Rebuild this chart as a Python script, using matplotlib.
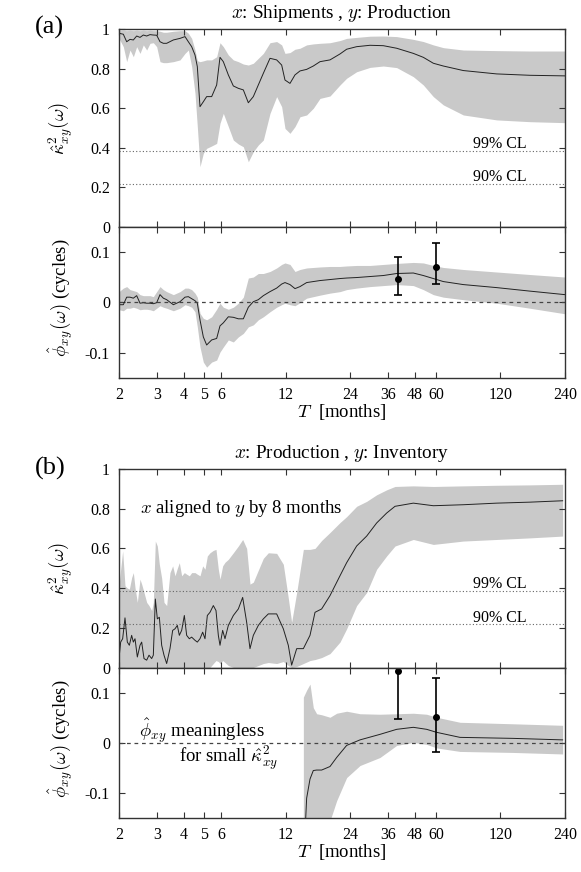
import matplotlib
matplotlib.use('Agg')
import matplotlib.pyplot as plt
from matplotlib.ticker import FixedLocator, FixedFormatter, NullFormatter, NullLocator

plt.rcParams['font.family'] = ['Liberation Serif', 'DejaVu Serif']
plt.rcParams['mathtext.fontset'] = 'cm'
plt.rcParams['font.size'] = 11.5
plt.rcParams['axes.unicode_minus'] = False

# ---------------- panel (a): x = Shipments, y = Production ----------------
period_a = [2.000, 2.095, 2.172, 2.251, 2.333, 2.418, 2.506, 2.597, 2.692, 2.790,
            2.891, 2.997, 3.106, 3.219, 3.336, 3.584, 3.850, 4.062, 4.210, 4.363,
            4.522, 4.636, 4.771, 4.945, 5.125, 5.408, 5.706, 5.914, 6.129, 6.467,
            6.824, 7.200, 7.597, 8.016, 8.457, 8.923, 9.417, 10.115, 10.864, 11.464,
            11.880, 12.536, 13.227, 13.956, 14.99, 16.10, 17.30, 19.26, 21.44, 23.03,
            25.64, 29.59, 34.14, 39.40, 47.11, 52.45, 58.40, 65.01, 80.58, 115.2,
            164.8, 240.0]
coh_a = [0.980, 0.975, 0.937, 0.949, 0.946, 0.966, 0.959, 0.971, 0.966, 0.973,
         0.971, 0.970, 0.937, 0.929, 0.929, 0.946, 0.954, 0.963, 0.937, 0.912,
         0.870, 0.811, 0.608, 0.633, 0.659, 0.659, 0.718, 0.858, 0.836, 0.769,
         0.713, 0.701, 0.693, 0.628, 0.659, 0.718, 0.777, 0.853, 0.845, 0.819,
         0.743, 0.726, 0.769, 0.789, 0.797, 0.814, 0.836, 0.845, 0.875, 0.899,
         0.912, 0.919, 0.917, 0.904, 0.878, 0.858, 0.828, 0.814, 0.791, 0.774,
         0.767, 0.764]
coh_a_hi = [0.993, 0.995, 0.993, 0.995, 0.993, 0.995, 0.993, 0.995, 0.993, 0.995,
            0.993, 0.993, 0.990, 0.985, 0.985, 0.990, 0.993, 0.993, 0.980, 0.954,
            0.895, 0.841, 0.836, 0.840, 0.845, 0.845, 0.861, 0.932, 0.912, 0.870,
            0.845, 0.836, 0.824, 0.819, 0.828, 0.853, 0.878, 0.932, 0.938, 0.921,
            0.878, 0.882, 0.899, 0.904, 0.921, 0.926, 0.929, 0.932, 0.943, 0.954,
            0.959, 0.965, 0.966, 0.963, 0.949, 0.938, 0.921, 0.907, 0.895, 0.892,
            0.890, 0.890]
coh_a_lo = [0.954, 0.912, 0.836, 0.895, 0.861, 0.912, 0.878, 0.921, 0.895, 0.929,
            0.932, 0.912, 0.836, 0.831, 0.831, 0.836, 0.845, 0.878, 0.895, 0.811,
            0.676, 0.507, 0.304, 0.372, 0.397, 0.409, 0.422, 0.524, 0.574, 0.507,
            0.439, 0.419, 0.405, 0.329, 0.380, 0.414, 0.439, 0.574, 0.659, 0.608,
            0.498, 0.473, 0.507, 0.557, 0.566, 0.600, 0.650, 0.662, 0.718, 0.752,
            0.785, 0.807, 0.814, 0.806, 0.760, 0.718, 0.659, 0.617, 0.566, 0.541,
            0.532, 0.527]
phase_a = [-0.005, -0.005, 0.010, 0.010, 0.008, 0.013, -0.002, -0.001, -0.002, -0.002,
           -0.003, -0.001, 0.015, 0.008, 0.005, -0.005, 0.001, 0.010, 0.011, 0.007,
           0.003, -0.002, -0.035, -0.069, -0.085, -0.075, -0.072, -0.047, -0.041, -0.029,
           -0.030, -0.033, -0.033, -0.010, 0.001, 0.005, 0.013, 0.021, 0.028, 0.036,
           0.039, 0.035, 0.027, 0.031, 0.039, 0.041, 0.043, 0.045, 0.047, 0.048,
           0.049, 0.051, 0.053, 0.057, 0.058, 0.053, 0.047, 0.041, 0.035, 0.029,
           0.022, 0.015]
phase_a_hi = [0.021, 0.028, 0.031, 0.025, 0.023, 0.021, 0.015, 0.013, 0.013, 0.013,
              0.011, 0.021, 0.031, 0.025, 0.021, 0.015, 0.021, 0.028, 0.028, 0.025,
              0.018, 0.010, -0.022, -0.032, -0.035, -0.029, -0.014, -0.002, -0.010, -0.014,
              -0.010, -0.002, 0.010, 0.048, 0.050, 0.057, 0.057, 0.061, 0.068, 0.075,
              0.078, 0.075, 0.061, 0.065, 0.068, 0.069, 0.070, 0.071, 0.071, 0.072,
              0.073, 0.073, 0.075, 0.077, 0.079, 0.078, 0.073, 0.069, 0.065, 0.060,
              0.055, 0.050]
phase_a_lo = [-0.015, -0.017, -0.012, -0.012, -0.010, -0.012, -0.015, -0.014, -0.014, -0.015,
              -0.017, -0.012, -0.007, -0.010, -0.012, -0.017, -0.012, -0.005, -0.007, -0.010,
              -0.019, -0.049, -0.089, -0.119, -0.129, -0.119, -0.115, -0.099, -0.089, -0.075,
              -0.079, -0.069, -0.062, -0.049, -0.045, -0.035, -0.029, -0.019, -0.010, -0.005,
              -0.002, -0.005, -0.007, -0.001, 0.008, 0.011, 0.014, 0.018, 0.021, 0.025,
              0.028, 0.031, 0.033, 0.035, 0.033, 0.025, 0.015, 0.010, 0.005, -0.002,
              -0.012, -0.023]

# ---------------- panel (b): x = Production, y = Inventory ----------------
period_b = [2.000, 2.036, 2.080, 2.133, 2.187, 2.235, 2.291, 2.333, 2.375, 2.435,
            2.506, 2.551, 2.616, 2.692, 2.760, 2.840, 2.891, 2.954, 3.018, 3.084,
            3.162, 3.242, 3.336, 3.457, 3.558, 3.648, 3.741, 3.822, 3.919, 4.033,
            4.135, 4.255, 4.363, 4.522, 4.636, 4.771, 4.910, 5.034, 5.162, 5.312,
            5.505, 5.665, 5.809, 5.914, 6.085, 6.240, 6.467, 6.824, 7.200, 7.543,
            7.873, 8.160, 8.457, 8.923, 9.417, 9.935, 10.864, 11.67, 12.31, 12.76,
            13.47, 14.47, 15.54, 16.40, 17.61, 19.26, 21.44, 23.03, 25.64, 28.55,
            31.78, 35.38, 38.70, 47.11, 58.40, 80.58, 115.2, 164.8, 234.0]
coh_b = [0.045, 0.128, 0.145, 0.250, 0.128, 0.112, 0.162, 0.128, 0.145, 0.053,
         0.112, 0.128, 0.045, 0.037, 0.062, 0.045, 0.062, 0.345, 0.245, 0.253,
         0.112, 0.062, 0.020, 0.095, 0.187, 0.195, 0.212, 0.162, 0.187, 0.262,
         0.162, 0.145, 0.153, 0.137, 0.128, 0.145, 0.178, 0.145, 0.262, 0.278,
         0.312, 0.287, 0.162, 0.112, 0.187, 0.145, 0.212, 0.262, 0.295, 0.353,
         0.228, 0.095, 0.162, 0.212, 0.245, 0.270, 0.270, 0.195, 0.112, 0.012,
         0.095, 0.095, 0.162, 0.278, 0.295, 0.362, 0.462, 0.528, 0.612, 0.662,
         0.728, 0.778, 0.812, 0.828, 0.815, 0.820, 0.828, 0.833, 0.840]
coh_b_hi = [0.412, 0.495, 0.587, 0.412, 0.400, 0.395, 0.453, 0.478, 0.403, 0.328,
            0.445, 0.420, 0.378, 0.328, 0.312, 0.287, 0.328, 0.637, 0.612, 0.520,
            0.450, 0.328, 0.312, 0.478, 0.512, 0.462, 0.500, 0.528, 0.462, 0.478,
            0.470, 0.462, 0.478, 0.478, 0.470, 0.462, 0.512, 0.495, 0.562, 0.578,
            0.590, 0.595, 0.495, 0.445, 0.512, 0.530, 0.545, 0.578, 0.612, 0.645,
            0.600, 0.420, 0.430, 0.490, 0.550, 0.578, 0.575, 0.520, 0.350, 0.228,
            0.378, 0.595, 0.595, 0.600, 0.640, 0.680, 0.730, 0.760, 0.812, 0.837,
            0.870, 0.895, 0.912, 0.915, 0.912, 0.915, 0.918, 0.920, 0.923]
coh_b_lo = [0.0] * 40 + [
            0.020, 0.035, 0.030, 0.020, 0.035, 0.025, 0.010, 0.0, 0.0, 0.0,
            0.0, 0.0, 0.0, 0.010, 0.020, 0.025, 0.020, 0.030, 0.010, 0.0,
            0.005, 0.020, 0.035, 0.040, 0.050, 0.070, 0.128, 0.195, 0.312, 0.378,
            0.495, 0.562, 0.612, 0.645, 0.620, 0.637, 0.645, 0.653, 0.662]

period_b_ph = [14.47, 14.99, 15.54, 16.10, 16.69, 17.61, 19.26, 20.69, 23.03, 26.58,
               32.94, 39.40, 47.11, 54.36, 60.52, 77.76, 137.8, 234.0]
phase_b = [-0.250, -0.110, -0.072, -0.055, -0.054, -0.054, -0.047, -0.029, -0.005, 0.006,
           0.017, 0.027, 0.031, 0.027, 0.021, 0.011, 0.009, 0.006]
phase_b_hi = [0.091, 0.105, 0.117, 0.070, 0.058, 0.056, 0.051, 0.059, 0.063, 0.058,
              0.057, 0.058, 0.059, 0.057, 0.051, 0.041, 0.038, 0.035]
phase_b_lo = [-0.300, -0.300, -0.300, -0.300, -0.300, -0.300, -0.155, -0.115, -0.069, -0.045,
              -0.029, -0.005, 0.001, -0.003, -0.010, -0.017, -0.019, -0.022]

# error bars on the phase
err_period = [40, 60]
err_a = [0.047, 0.070]
err_a_lo = [0.014, 0.036]
err_a_hi = [0.090, 0.117]
err_b = [0.143, 0.051]
err_b_lo = [0.047, -0.019]
err_b_hi = [0.240, 0.130]

cl99 = 0.383
cl90 = 0.217

xticks = [2, 3, 4, 5, 6, 12, 24, 36, 48, 60, 120, 240]

W, H = 581, 872
fig = plt.figure(figsize=(W / 100, H / 100), dpi=100)

def box(top, bottom, left=119, right=565):
    return [left / W, 1 - bottom / H, (right - left) / W, (bottom - top) / H]

band_c = '#c9c9c9'
frame_c = '#333333'
big = 13.5


def style(ax, xlabels):
    ax.set_xscale('log')
    ax.set_xlim(2, 240)
    ax.xaxis.set_major_locator(FixedLocator(xticks))
    ax.xaxis.set_minor_locator(NullLocator())
    if xlabels:
        ax.xaxis.set_major_formatter(FixedFormatter([str(t) for t in xticks]))
    else:
        ax.xaxis.set_major_formatter(NullFormatter())
    ax.xaxis.set_minor_formatter(NullFormatter())
    ax.tick_params(which='both', direction='in', top=True, right=True,
                   length=4.5, width=0.8, color=frame_c, pad=6.5)
    for s in ax.spines.values():
        s.set_color(frame_c)
        s.set_linewidth(1.0)


def coherence(ax, T, c, lo, hi):
    ax.fill_between(T, lo, hi, color=band_c, lw=0)
    ax.plot(T, c, color='#222222', lw=0.7)
    ax.axhline(cl99, color='#666666', lw=0.8, ls=(0, (1, 2)))
    ax.axhline(cl90, color='#666666', lw=0.8, ls=(0, (1, 2)))
    ax.text(0.915, 0.42, '99% CL', transform=ax.transAxes, ha='right', va='center')
    ax.text(0.915, 0.25, '90% CL', transform=ax.transAxes, ha='right', va='center')
    ax.set_ylim(0, 1)
    ax.set_yticks([0, 0.2, 0.4, 0.6, 0.8, 1])
    ax.set_yticklabels(['0', '0.2', '0.4', '0.6', '0.8', '1'])
    ax.set_ylabel(r'$\hat{\kappa}^2_{xy}(\omega)$', fontsize=big)
    ax.yaxis.set_label_coords(-0.099, 0.5)
    style(ax, False)


def phase(ax, T, p, lo, hi, ev, elo, ehi):
    ax.fill_between(T, lo, hi, color=band_c, lw=0)
    ax.plot(T, p, color='#222222', lw=0.7)
    ax.axhline(0, color='#444444', lw=0.9, ls=(0, (3, 3)))
    yerr = [[v - l for v, l in zip(ev, elo)], [h - v for v, h in zip(ev, ehi)]]
    ax.errorbar(err_period, ev, yerr=yerr, fmt='o', color='black', ms=4,
                elinewidth=1.2, capsize=3, capthick=1.2)
    ax.set_ylim(-0.15, 0.15)
    ax.set_yticks([-0.1, 0, 0.1])
    ax.set_yticklabels(['-0.1', '0', '0.1'])
    ax.set_ylabel(r'$\hat{\phi}_{xy}(\omega)$ (cycles)', fontsize=big)
    ax.yaxis.set_label_coords(-0.099, 0.53)
    ax.set_xlabel(r'$T\ $ [months]', fontsize=big)
    ax.xaxis.set_label_coords(0.5, -0.16)
    style(ax, True)


ax1 = fig.add_axes(box(29.3, 226.7))
coherence(ax1, period_a, coh_a, coh_a_lo, coh_a_hi)
ax1.set_title(r'$x$: Shipments , $y$: Production', pad=8)

ax2 = fig.add_axes(box(226.7, 377.7))
phase(ax2, period_a, phase_a, phase_a_lo, phase_a_hi, err_a, err_a_lo, err_a_hi)

ax3 = fig.add_axes(box(469, 667.5))
coherence(ax3, period_b, coh_b, coh_b_lo, coh_b_hi)
ax3.set_title(r'$x$: Production , $y$: Inventory', pad=8)
ax3.text(0.047, 0.80, r'$x$ aligned to $y$ by 8 months', transform=ax3.transAxes,
         ha='left', va='center', fontsize=big)

ax4 = fig.add_axes(box(667.5, 818.3))
phase(ax4, period_b_ph, phase_b, phase_b_lo, phase_b_hi, err_b, err_b_lo, err_b_hi)
ax4.text(0.045, 0.585, r'$\hat{\phi}_{xy}$ meaningless', transform=ax4.transAxes,
         ha='left', va='center', fontsize=big)
ax4.text(0.135, 0.40, r'for small $\hat{\kappa}^2_{xy}$', transform=ax4.transAxes,
         ha='left', va='center', fontsize=big)

fig.text(35 / W, 1 - 27.5 / H, '(a)', fontsize=19, ha='left', va='center')
fig.text(35 / W, 1 - 468 / H, '(b)', fontsize=19, ha='left', va='center')

fig.savefig('out.png', dpi=100)
